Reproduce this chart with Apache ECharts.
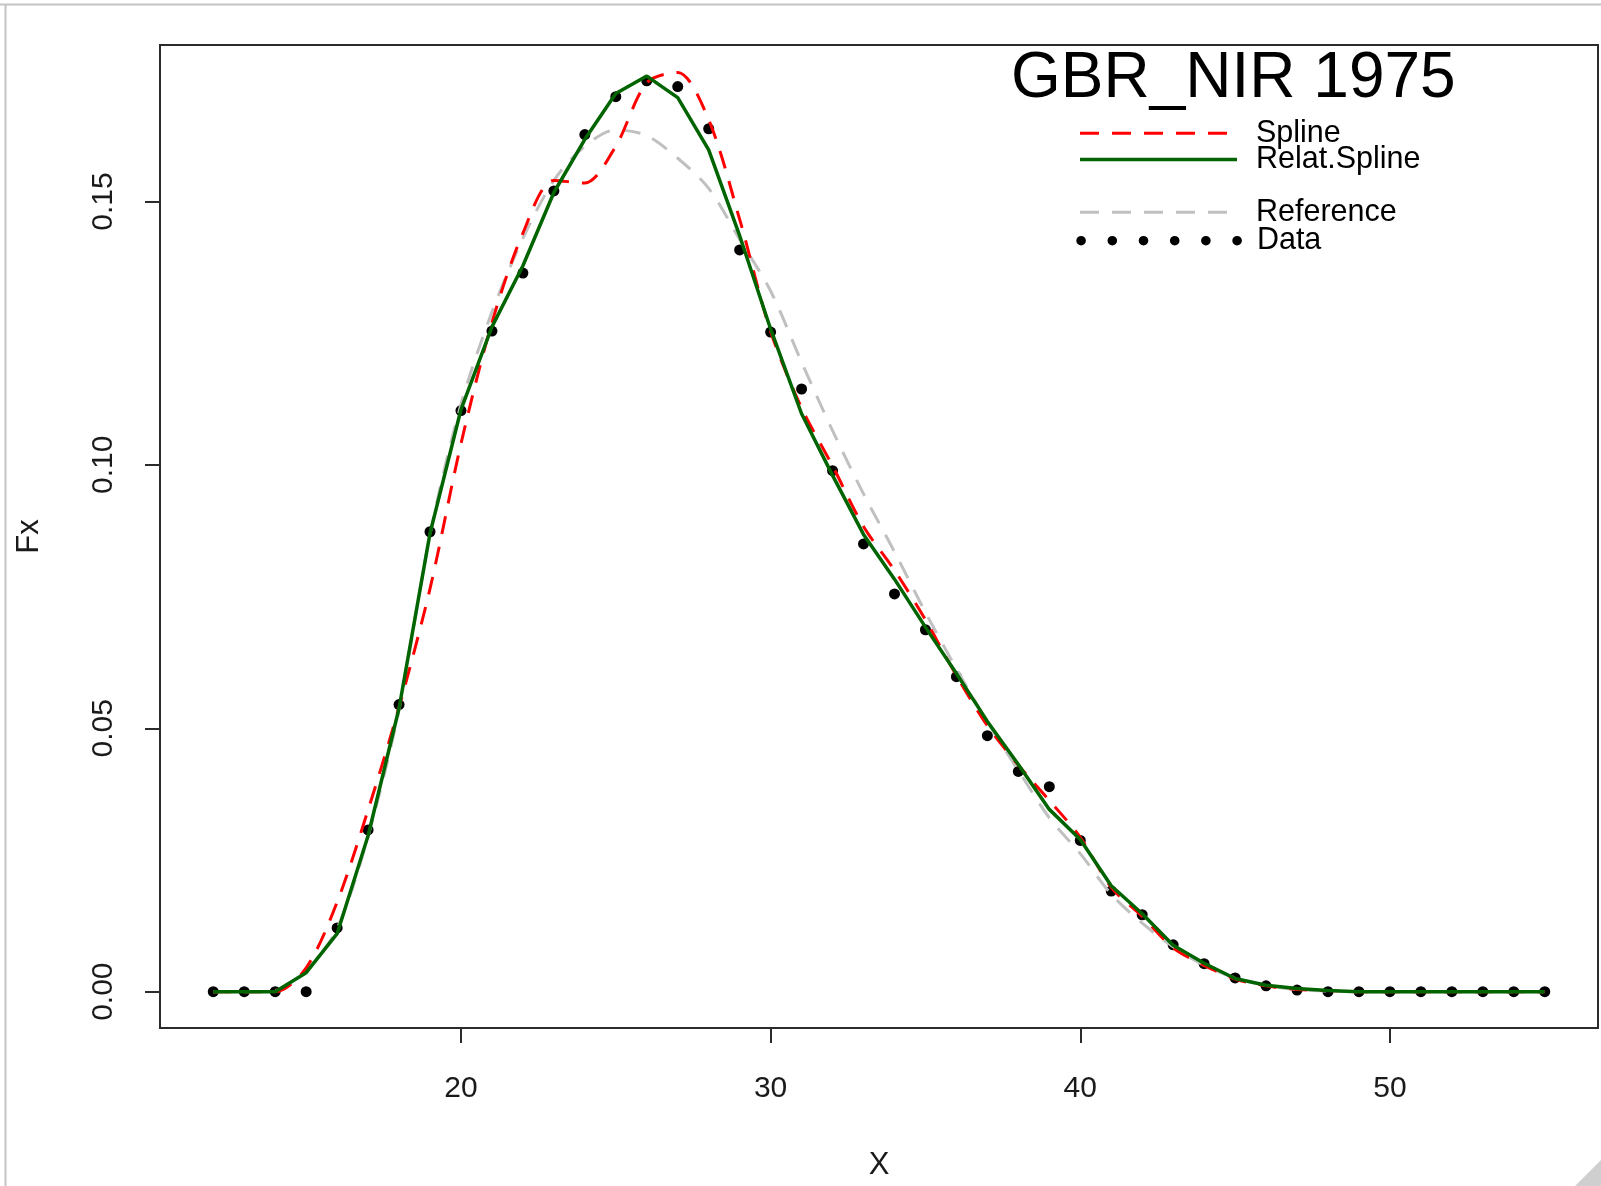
<!DOCTYPE html>
<html>
<head>
<meta charset="utf-8">
<script src="https://cdn.jsdelivr.net/npm/echarts@6/dist/echarts.min.js"></script>
<style>
html,body{margin:0;padding:0;background:#fff;}
#chart{width:1601px;height:1186px;}
</style>
</head>
<body>
<div id="chart"></div>
<script>
// ---- data ----
const xValues = [12,13,14,15,16,17,18,19,20,21,22,23,24,25,26,27,28,29,30,31,32,33,34,35,36,37,38,39,40,41,42,43,44,45,46,47,48,49,50,51,52,53,54,55];
const dataFx = [0,0,0,0,0.0121,0.0307,0.0545,0.0873,0.1103,0.1254,0.1364,0.1520,0.1627,0.1699,0.1729,0.1718,0.1638,0.1408,0.1252,0.1144,0.0989,0.0850,0.0755,0.0687,0.0598,0.0486,0.0418,0.0389,0.0287,0.0191,0.0146,0.0089,0.0053,0.0026,0.0011,0.0003,0,0,0,0,0,0,0,0];
const splineFx = [0,0,0,0.0045,0.0170,0.0345,0.0540,0.0765,0.1040,0.1270,0.1440,0.1540,0.1535,0.1605,0.1725,0.1745,0.1655,0.1466,0.1253,0.1108,0.0998,0.0883,0.0800,0.0706,0.0600,0.0505,0.0430,0.0363,0.0293,0.0198,0.0143,0.0083,0.0050,0.0024,0.0011,0.0004,0.0002,0,0,0,0,0,0,0];
const relatSplineFx = [0,0,0,0.0036,0.0110,0.0296,0.0538,0.0870,0.1105,0.1262,0.1378,0.1517,0.1618,0.1705,0.1738,0.1697,0.1598,0.1435,0.1258,0.1097,0.0980,0.0868,0.0783,0.0692,0.0604,0.0513,0.0431,0.0346,0.0289,0.0201,0.0148,0.0088,0.0054,0.0025,0.0012,0.0006,0.0002,0,0,0,0,0,0,0];
const referenceFx = [0,0,0.0002,0.0040,0.0120,0.0295,0.0535,0.0868,0.1115,0.1290,0.1430,0.1540,0.1605,0.1636,0.1625,0.1582,0.1525,0.1428,0.1330,0.1195,0.1065,0.0945,0.0835,0.0720,0.0613,0.0512,0.0420,0.0330,0.0262,0.0185,0.0130,0.0085,0.0050,0.0026,0.0012,0.0004,0.0001,0,0,0,0,0,0,0];
const xTicks = [20,30,40,50];
const yTicks = [0,0.05,0.10,0.15];
const titleText = 'GBR_NIR 1975';

// ---- chart ----
const FONT = "'Liberation Sans', Arial, Helvetica, sans-serif";
const pairs = arr => xValues.map((x, i) => [x, arr[i]]);

const dashPath = 'path://M0,0h19v3h-19z M32,0h19v3h-19z M64,0h19v3h-19z M96,0h19v3h-19z M128,0h19v3h-19z';
const solidPath = 'path://M0,0h157v3.5h-157z';
let dotPath = 'path://';
(function(){
  const r = 4.8;
  for (let k = 0; k < 6; k++) {
    const cx = r + 31.2 * k;
    dotPath += 'M' + (cx - r) + ',' + r + ' a' + r + ',' + r + ' 0 1,0 ' + (2 * r) + ',0 a' + r + ',' + r + ' 0 1,0 ' + (-2 * r) + ',0 z ';
  }
})();

function legendCfg(name, icon, w, h, left, centerY, padLeft) {
  return {
    show: true,
    data: [{ name: name, icon: icon }],
    left: left,
    top: centerY - 18,
    orient: 'vertical',
    itemWidth: w,
    itemHeight: h,
    padding: 0,
    itemGap: 0,
    selectedMode: false,
    itemStyle: { borderWidth: 0 },
    textStyle: { fontSize: 30.5, lineHeight: 30, color: '#000', fontFamily: FONT, padding: [6, 0, 0, padLeft] }
  };
}

const chart = echarts.init(document.getElementById('chart'), null, { renderer: 'canvas', width: 1601, height: 1186 });

const option = {
  animation: false,
  backgroundColor: '#ffffff',
  textStyle: { fontFamily: FONT },
  title: {
    text: titleText,
    left: 1011,
    top: 47,
    padding: 0,
    textStyle: { fontSize: 64, fontWeight: 'normal', color: '#000', fontFamily: FONT, lineHeight: 64 }
  },
  legend: [
    legendCfg('Spline', dashPath, 147, 3, 1080, 133.3, 24),
    legendCfg('Relat.Spline', solidPath, 157, 3.5, 1080, 159.5, 14),
    legendCfg('Reference', dashPath, 147, 3, 1080, 212.3, 24),
    legendCfg('Data', dotPath, 165.6, 9.6, 1076.3, 240.7, 10)
  ],
  grid: {
    left: 160, right: 3, top: 45, bottom: 152,
    show: true, borderColor: '#2b2b2b', borderWidth: 2, backgroundColor: 'transparent',
    containLabel: false
  },
  xAxis: {
    type: 'value',
    min: 10.28, max: 56.72,
    name: 'X',
    nameLocation: 'middle',
    nameGap: 122,
    nameTextStyle: { fontSize: 31, color: '#1a1a1a', fontFamily: FONT },
    axisLine: { show: false, onZero: false },
    splitLine: { show: false },
    axisTick: { show: true, inside: false, length: 15, customValues: xTicks, lineStyle: { color: '#2b2b2b', width: 2 } },
    axisLabel: { show: true, customValues: xTicks, fontSize: 30, margin: 46, color: '#1a1a1a', fontFamily: FONT }
  },
  yAxis: {
    type: 'value',
    min: -0.0069, max: 0.1797,
    name: 'Fx',
    nameLocation: 'middle',
    nameRotate: 90,
    nameGap: 115,
    nameTextStyle: { fontSize: 31, color: '#1a1a1a', fontFamily: FONT },
    axisLine: { show: false, onZero: false },
    splitLine: { show: false },
    axisTick: { show: true, inside: false, length: 15, customValues: yTicks, lineStyle: { color: '#2b2b2b', width: 2 } },
    axisLabel: { show: true, customValues: yTicks, rotate: 90, fontSize: 30, margin: 41, color: '#1a1a1a', fontFamily: FONT,
      formatter: v => Number(v).toFixed(2) }
  },
  series: [
    {
      name: 'Data', type: 'scatter', data: pairs(dataFx),
      symbol: 'circle', symbolSize: 11,
      itemStyle: { color: '#000000', opacity: 1 }, z: 2
    },
    {
      name: 'Reference', type: 'line', data: pairs(referenceFx),
      symbol: 'none', smooth: 0.3, color: '#c0c0c0',
      lineStyle: { color: '#c0c0c0', width: 3, type: [18, 13] }, z: 3
    },
    {
      name: 'Spline', type: 'line', data: pairs(splineFx),
      symbol: 'none', smooth: 0.3, color: '#ff0000',
      lineStyle: { color: '#ff0000', width: 3, type: [18, 13] }, z: 4
    },
    {
      name: 'Relat.Spline', type: 'line', data: pairs(relatSplineFx),
      symbol: 'none', smooth: false, color: '#006400',
      lineStyle: { color: '#006400', width: 3.5, type: 'solid' }, z: 5
    }
  ],
  graphic: [
    { type: 'line', silent: true, shape: { x1: 0, y1: 4.5, x2: 1601, y2: 4.5 }, style: { stroke: '#c4c4c4', lineWidth: 2 } },
    { type: 'line', silent: true, shape: { x1: 5.5, y1: 4, x2: 5.5, y2: 1186 }, style: { stroke: '#c4c4c4', lineWidth: 2 } },
    { type: 'polygon', silent: true, shape: { points: [[1601, 1160], [1601, 1186], [1575, 1186]] }, style: { fill: '#cfcfcf' } }
  ]
};
chart.setOption(option);
</script>
</body>
</html>
